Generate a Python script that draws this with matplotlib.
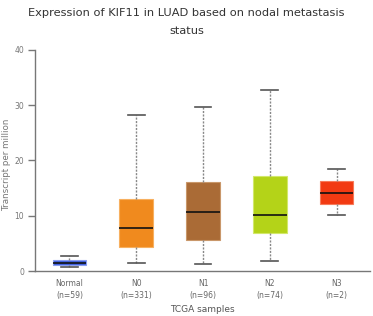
import matplotlib
matplotlib.use("Agg")
import matplotlib.pyplot as plt

categories = ["Normal", "N0", "N1", "N2", "N3"]
counts = [59, 331, 96, 74, 2]
whislo = [0.7, 1.45, 1.2, 1.9, 10.1]
q1 = [1.1, 4.4, 5.7, 6.9, 12.1]
med = [1.4, 7.85, 10.6, 10.2, 14.1]
q3 = [2.0, 13.0, 16.1, 17.2, 16.3]
whishi = [2.7, 28.2, 29.7, 32.7, 18.4]
colors = ["#3f5fdc", "#f08a1e", "#aa6b36", "#b4d318", "#f23a12"]
edgecolors = ["#8a9ef0", "#f7b060", "#c9976a", "#d2e86a", "#f77a5a"]
yticks = [0, 10, 20, 30, 40]

fig = plt.figure(figsize=(3.73, 3.16), dpi=100)
ax = fig.add_axes([0.0938, 0.1424, 0.8982, 0.6994])

stats = []
for i, c in enumerate(categories):
    stats.append(dict(label=c, whislo=whislo[i], q1=q1[i], med=med[i],
                      q3=q3[i], whishi=whishi[i], fliers=[]))

pos = list(range(len(categories)))
bp = ax.bxp(stats, positions=pos, widths=0.5, patch_artist=True,
            showfliers=False,
            whiskerprops=dict(color="#888888", linestyle=(0, (1.5, 1.0)), linewidth=1.0),
            capprops=dict(color="#555555", linewidth=1.2),
            medianprops=dict(color="#111111", linewidth=1.2),
            capwidths=0.25)
for patch, fc, ec in zip(bp["boxes"], colors, edgecolors):
    patch.set_facecolor(fc)
    patch.set_edgecolor(ec)
    patch.set_linewidth(0.8)

ax.set_xlim(-0.515, 4.5)
ax.set_ylim(0, 40)
ax.set_yticks(yticks)
ax.set_yticklabels([str(t) for t in yticks], fontsize=5.5, color="#777777")
ax.set_xticks(pos)
ax.set_xticklabels([f"{c}\n(n={n})" for c, n in zip(categories, counts)],
                   fontsize=5.5, color="#666666", linespacing=1.45)
ax.tick_params(axis="x", length=0, pad=5.5)
ax.tick_params(axis="y", length=5, width=1, color="#777777", pad=3)
for s in ["top", "right"]:
    ax.spines[s].set_visible(False)
for s in ["left", "bottom"]:
    ax.spines[s].set_color("#777777")
    ax.spines[s].set_linewidth(1.0)
ax.set_xlabel("TCGA samples", fontsize=6.5, color="#555555")
ax.xaxis.set_label_coords(0.5, (271 - 309.5) / 221, transform=ax.transAxes)
ax.xaxis.label.set_va("center")
ax.set_ylabel("Transcript per million", fontsize=6.3, color="#777777")
ax.yaxis.set_label_coords((7 - 35) / 335, (271 - 165) / 221, transform=ax.transAxes)
ax.yaxis.label.set_va("center")

fig.text(0.5, 1 - 12.5 / 316, "Expression of KIF11 in LUAD based on nodal metastasis",
         fontsize=8.2, color="#333333", ha="center", va="center")
fig.text(0.5, 1 - 31.5 / 316, "status",
         fontsize=8.2, color="#333333", ha="center", va="center")

fig.savefig("out.png", dpi=100)
